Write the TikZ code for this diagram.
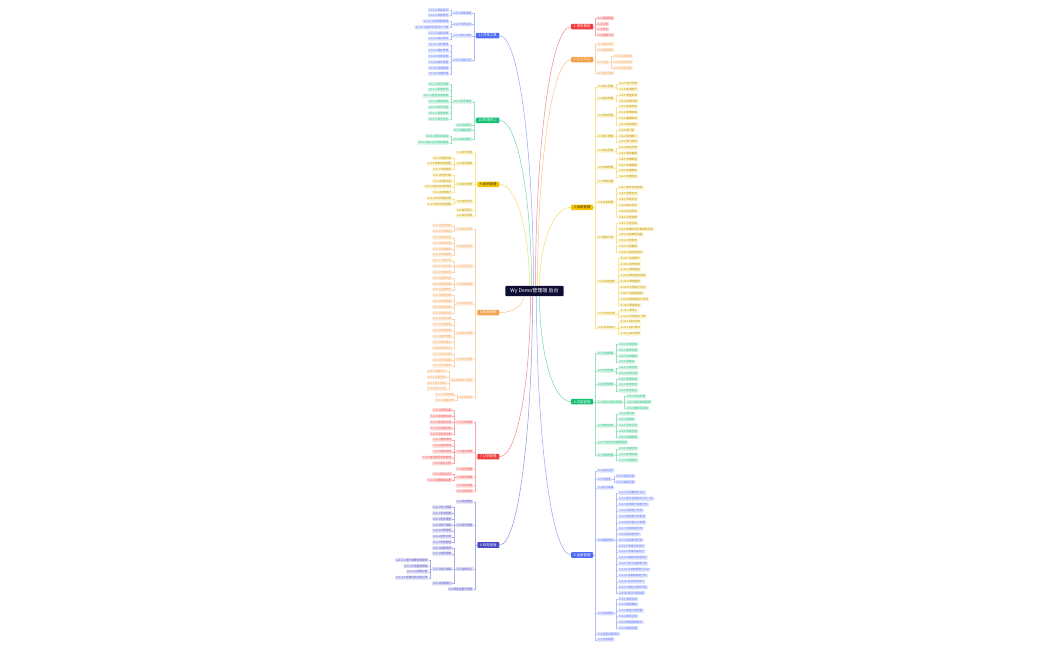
\documentclass[tikz,border=0pt]{standalone}
\usepackage{fontspec}
\setmainfont{Noto Sans CJK SC}
\usetikzlibrary{calc}

\definecolor{cblue}{HTML}{4F6BF5}
\definecolor{cgreen}{HTML}{14BF73}
\definecolor{cyellow}{HTML}{F5C400}
\definecolor{corange}{HTML}{F5A04B}
\definecolor{cred}{HTML}{F23B3B}
\definecolor{cindigo}{HTML}{4747C4}
\definecolor{cnavy}{HTML}{0E0E35}

\def\bc{cblue}
\def\bt{white}
\def\tx{\bc!85}

\tikzset{root/.style={fill=cnavy,text=white,rounded corners=0.8pt,inner xsep=5pt,inner ysep=2.5pt,font=\fontsize{5}{5.5}\selectfont},
branch/.style={fill=\bc,text=\bt,rounded corners=0.8pt,inner xsep=2.5pt,inner ysep=1.2pt,minimum width=22pt,font=\fontsize{3.4}{4}\selectfont},
leaf/.style={fill=\bc!20,text=\tx,rounded corners=0.5pt,inner xsep=1pt,inner ysep=0.7pt,font=\fontsize{2.7}{3.1}\selectfont},
link/.style={draw=\bc!45,line width=0.35pt},
trunk/.style={draw=\bc!60,line width=0.5pt}}

% sub node on the left / right of its parent, with its own leaves
\newcommand{\lsub}[5]{%
\node[leaf,anchor=east,xshift=-3.5pt] (#2) at (#1.west |- 0,#3) {#4};
\draw[link] (#1.west) -- ++(-1.75,0) |- (#2.east);
\if\relax\detokenize{#5}\relax\else
\foreach \yy/\lbl [count=\ix] in {#5} {\lsub{#2}{#2-\ix}{\yy}{\lbl}{}}%
\fi}
\newcommand{\rsub}[5]{%
\node[leaf,anchor=west,xshift=3.5pt] (#2) at (#1.east |- 0,#3) {#4};
\draw[link] (#1.east) -- ++(1.75,0) |- (#2.west);
\if\relax\detokenize{#5}\relax\else
\foreach \yy/\lbl [count=\ix] in {#5} {\rsub{#2}{#2-\ix}{\yy}{\lbl}{}}%
\fi}
\newcommand{\bcurve}[2]{%
\draw[trunk] (#1) .. controls ($(#1)!0.6!(#1 -| #2)$) and ($(#2)!0.5!(#2 |- #1)$) .. (#2);}

\begin{document}
\begin{tikzpicture}[x=1pt,y=-1pt]
\path[use as bounding box,fill=white] (0,0) rectangle (1050,650);

\node[root] (root) at (534.5,291) {Wy Demo管理端 后台};
\foreach \nm/\dx in {L3/-5,L2/-3,L1/-1,R1/1,R2/3,R3/5} \coordinate (t\nm) at ($(root.north)+(\dx,0)$);
\foreach \nm/\dx in {L4/-11,L5/-4,L6/-2,R5/2,R4/5} \coordinate (b\nm) at ($(root.south)+(\dx,0)$);

% right side
\def\bc{cred}
\node[branch,anchor=west] (R1) at (571,26.7) {1.首页看板};
\bcurve{R1.west}{tR1}
\rsub{R1}{R1a}{18.3}{1-1 数据看板}{}
\rsub{R1}{R1b}{24}{1-2 公告}{}
\rsub{R1}{R1c}{29.3}{1-3 待办}{}
\rsub{R1}{R1d}{35}{1-4 快捷入口}{}

\def\bc{corange}
\node[branch,anchor=west] (R2) at (571,59.7) {2.个人中心};
\bcurve{R2.west}{tR2}
\rsub{R2}{R2a}{44.3}{2-1 基本资料}{}
\rsub{R2}{R2b}{50}{2-2 修改密码}{}
\rsub{R2}{R2c}{62.3}{2-3 消息}{56/2-3-1 系统通知,62/2-3-2 站内消息,68/2-3-3 消息设置}
\rsub{R2}{R2d}{73.3}{2-4 退出登录}{}

\def\bc{cyellow}\def\bt{black!85}\def\tx{cyellow!75!black}
\node[branch,anchor=west] (R3) at (571,207.3) {3.系统管理};
\bcurve{R3.west}{tR3}
\rsub{R3}{R3a}{86.7}{3-1 用户管理}{83.7/3-1-1 用户列表,89.3/3-1-2 新增用户}
\rsub{R3}{R3b}{98.7}{3-2 角色管理}{95.3/3-2-1 角色列表,101/3-2-2 权限分配}
\rsub{R3}{R3c}{115.7}{3-3 菜单管理}{106.7/3-3-1 菜单列表,112.3/3-3-2 新增菜单,118.3/3-3-3 编辑菜单,124.7/3-3-4 菜单排序}
\rsub{R3}{R3d}{136}{3-4 部门管理}{130/3-4-1 部门树,136/3-4-2 新增部门,141.7/3-4-3 部门成员}
\rsub{R3}{R3e}{150.7}{3-5 岗位管理}{147.7/3-5-1 岗位列表,153.3/3-5-2 岗位编辑}
\rsub{R3}{R3f}{167.7}{3-6 字典管理}{159/3-6-1 字典类型,165/3-6-2 字典数据,170.7/3-6-3 字典缓存,176.7/3-6-4 字典导出}
\rsub{R3}{R3g}{181.7}{3-7 参数设置}{}
\rsub{R3}{R3h}{202.3}{3-8 日志管理}{187.7/3-8-1 操作日志查询,193.7/3-8-2 登录日志,199.3/3-8-3 异常日志,205.3/3-8-4 接口日志,211.3/3-8-5 日志导出,217/3-8-6 日志清理}
\rsub{R3}{R3i}{237.3}{3-9 通知公告}{223.3/3-9-1 公告列表,229/3-9-2 新增公告并推送至全员,234.7/3-9-3 公告审核流程,240.7/3-9-4 公告发布,246.3/3-9-5 公告撤回,252.3/3-9-6 公告阅读统计}
\rsub{R3}{R3j}{281.7}{3-10 系统监控}{258/3-10-1 在线用户,264/3-10-2 定时任务,269.7/3-10-3 服务监控,275.7/3-10-4 缓存监控信息,281.3/3-10-5 数据监控,287.3/3-10-6 任务执行日志,293/3-10-7 连接池监控,299/3-10-8 服务器运行状态,305/3-10-9 磁盘信息}
\rsub{R3}{R3k}{313.7}{3-11 代码生成}{310.7/3-11-1 表导入,316.7/3-11-2 代码预览下载}
\rsub{R3}{R3l}{327.7}{3-12 系统接口}{321.7/3-12-1 接口文档,327.7/3-12-2 接口调试,333.7/3-12-3 接口权限}

\def\bc{cgreen}\def\bt{white}\def\tx{\bc!85}
\node[branch,anchor=west] (R4) at (571,401.7) {4.内容管理};
\bcurve{R4.west}{bR4}
\rsub{R4}{R4a}{353.3}{4-1 文章管理}{344.3/4-1-1 文章列表,350/4-1-2 发布文章,356/4-1-3 文章审核,361.7/4-1-4 回收站}
\rsub{R4}{R4b}{370.7}{4-2 分类管理}{367.7/4-2-1 分类列表,373.3/4-2-2 新增分类}
\rsub{R4}{R4c}{384.3}{4-3 标签管理}{379/4-3-1 标签列表,384.7/4-3-2 新增标签,390.7/4-3-3 标签合并}
\rsub{R4}{R4d}{402}{4-4 评论与留言管理}{396.3/4-4-1 评论列表,402/4-4-2 留言审核管理,408/4-4-3 敏感词过滤}
\rsub{R4}{R4e}{425.7}{4-5 媒体资源}{413.7/4-5-1 图片库,419.3/4-5-2 视频库,425.3/4-5-3 文件上传,431.3/4-5-4 资源分组,437/4-5-5 存储配置}
\rsub{R4}{R4f}{442.7}{4-6 广告位与轮播图配置}{}
\rsub{R4}{R4g}{455}{4-7 专题管理}{448.7/4-7-1 专题列表,454.7/4-7-2 新增专题,460.3/4-7-3 专题排序}

\def\bc{cblue}
\node[branch,anchor=west] (R5) at (571,555) {5.运营管理};
\bcurve{R5.west}{bR5}
\rsub{R5}{R5a}{470.7}{5-1 活动日历}{}
\rsub{R5}{R5b}{479.3}{5-2 优惠券}{476/5-2-1 发放记录,482/5-2-2 核销记录}
\rsub{R5}{R5c}{487.7}{5-3 积分商城}{}
\rsub{R5}{R5d}{540}{5-4 数据统计}{492.7/5-4-1 访问量统计(PV),498.7/5-4-2 独立访客统计(UV、IP),504.7/5-4-3 新增用户趋势分析,510.7/5-4-4 活跃用户分布,516.7/5-4-5 留存率分析报表,522.7/5-4-6 转化漏斗分析图,528.7/5-4-7 页面停留时长,534.3/5-4-8 跳出率统计,540/5-4-9 渠道来源分析,546/5-4-10 地域分布统计,551.7/5-4-11 终端设备统计,557.7/5-4-12 搜索关键词排行,563.7/5-4-13 热门内容排行榜,569.7/5-4-14 订单数据统计汇总,575.7/5-4-15 销售额趋势分析,581.7/5-4-16 会员增长统计,587.3/5-4-17 自定义报表导出,593/5-4-18 统计口径说明}
\rsub{R5}{R5e}{613.3}{5-5 消息推送}{599/5-5-1 推送任务,604.3/5-5-2 推送模板,610.7/5-5-3 推送人群配置,616.3/5-5-4 推送记录,622/5-5-5 推送效果统计,628/5-5-6 推送设置}
\rsub{R5}{R5f}{634}{5-6 运营日报导出}{}
\rsub{R5}{R5g}{639.7}{5-7 运营配置}{}

% left side
\def\bc{cblue}
\node[branch,anchor=east] (L1) at (499.5,35.7) {11.开发工具};
\bcurve{L1.east}{tL1}
\lsub{L1}{L1a}{13}{11-1 表单构建}{10/11-1-1 表单设计,15.3/11-1-2 表单预览}
\lsub{L1}{L1b}{24.3}{11-2 代码生成}{21.3/11-2-1 生成配置管理,27.3/11-2-2 生成代码预览与下载}
\lsub{L1}{L1c}{35.7}{11-3 接口文档}{33/11-3-1 在线文档,38.7/11-3-2 接口测试}
\lsub{L1}{L1d}{60}{11-4 系统工具}{44.7/11-4-1 文件管理,50.7/11-4-2 缓存管理,56.3/11-4-3 任务调度,62.3/11-4-4 邮件配置,68/11-4-5 短信配置,73.7/11-4-6 存储配置}

\def\bc{cgreen}
\node[branch,anchor=east] (L2) at (499.5,120.3) {10.权限中心};
\bcurve{L2.east}{tL2}
\lsub{L2}{L2a}{101.7}{10-1 账号管理}{84/10-1-1 账号列表,89.7/10-1-2 新增账号,95.7/10-1-3 账号启用禁用,101.7/10-1-4 重置密码,107.3/10-1-5 账号分组,113.3/10-1-6 登录限制,119/10-1-7 账号日志}
\lsub{L2}{L2b}{125}{10-2 权限组}{}
\lsub{L2}{L2c}{130}{10-3 数据权限}{}
\lsub{L2}{L2d}{139.3}{10-4 接口授权}{136/10-4-1 接口白名单,142.7/10-4-2 接口访问密钥管理}

\def\bc{cyellow}\def\bt{black!85}\def\tx{cyellow!75!black}
\node[branch,anchor=east] (L3) at (499.5,184.3) {9.会员管理};
\bcurve{L3.east}{tL3}
\lsub{L3}{L3a}{152.7}{9-1 会员列表}{}
\lsub{L3}{L3b}{163.7}{9-2 会员等级}{158/9-2-1 等级列表,163.7/9-2-2 等级权益配置,169.3/9-2-3 升级规则}
\lsub{L3}{L3c}{184}{9-3 会员标签}{175.3/9-3-1 标签列表,181/9-3-2 标签分组,186.7/9-3-3 自动打标签规则,192.3/9-3-4 标签统计}
\lsub{L3}{L3d}{201.7}{9-4 会员积分}{198.7/9-4-1 积分明细记录,204.3/9-4-2 积分规则配置}
\lsub{L3}{L3e}{210}{9-5 会员导入}{}
\lsub{L3}{L3f}{215.7}{9-6 会员设置}{}

\def\bc{corange}\def\bt{white}\def\tx{\bc!85}
\node[branch,anchor=east] (L4) at (499.5,312.7) {8.商品管理};
\bcurve{L4.east}{bL4}
\lsub{L4}{L4a}{229}{8-1 商品列表}{225.7/8-1-1 在售商品,231.3/8-1-2 下架商品}
\lsub{L4}{L4b}{246.3}{8-2 商品发布}{237.7/8-2-1 基本信息,243.3/8-2-2 规格设置,249/8-2-3 价格库存,254.7/8-2-4 详情编辑}
\lsub{L4}{L4c}{266.3}{8-3 商品分类}{260.7/8-3-1 一级分类,266.3/8-3-2 二级分类,272.3/8-3-3 分类排序}
\lsub{L4}{L4d}{284}{8-4 品牌管理}{278/8-4-1 品牌列表,284/8-4-2 新增品牌,289.7/8-4-3 品牌审核}
\lsub{L4}{L4e}{303.7}{8-5 规格管理}{295.3/8-5-1 规格列表,301.3/8-5-2 规格模板,307/8-5-3 规格参数,313/8-5-4 规格分组}
\lsub{L4}{L4f}{333.3}{8-6 库存管理}{318.7/8-6-1 库存列表,324.7/8-6-2 入库管理,330.7/8-6-3 出库管理,336.7/8-6-4 库存预警,342.3/8-6-5 库存盘点,348/8-6-6 库存日志}
\lsub{L4}{L4g}{359.3}{8-7 评价管理}{354.3/8-7-1 评价列表,360/8-7-2 评价回复,365.7/8-7-3 评价审核}
\lsub{L4}{L4h}{380}{8-8 商品导入导出}{371.3/8-8-1 批量导入,377.3/8-8-2 批量导出,383.3/8-8-3 导入模板,389/8-8-4 导入记录}
\lsub{L4}{L4i}{397.3}{8-9 回收站}{394.7/8-9-1 已删商品,400.3/8-9-2 恢复记录}

\def\bc{cred}
\node[branch,anchor=east] (L5) at (499.5,456.7) {7.订单管理};
\bcurve{L5.east}{bL5}
\lsub{L5}{L5a}{422.3}{7-1 订单列表}{410/7-1-1 全部订单,416.3/7-1-2 待付款订单,422.3/7-1-3 待发货订单,428.3/7-1-4 已完成订单,434/7-1-5 已取消订单}
\lsub{L5}{L5b}{451.7}{7-2 售后管理}{439.7/7-2-1 退款申请,445.7/7-2-2 退货申请,451.7/7-2-3 换货申请,457.7/7-2-4 售后原因配置管理,463.3/7-2-5 售后记录}
\lsub{L5}{L5c}{469}{7-3 发货管理}{}
\lsub{L5}{L5d}{477.3}{7-4 物流管理}{474/7-4-1 物流公司,480/7-4-2 运费模板设置}
\lsub{L5}{L5e}{485.7}{7-5 订单设置}{}
\lsub{L5}{L5f}{491}{7-6 订单导出}{}

\def\bc{cindigo}
\node[branch,anchor=east] (L6) at (499.5,545) {6.财务管理};
\bcurve{L6.east}{bL6}
\lsub{L6}{L6a}{501.7}{6-1 财务概览}{}
\lsub{L6}{L6b}{525}{6-2 收支管理}{507.3/6-2-1 收入明细,513.3/6-2-2 支出明细,519/6-2-3 收支报表,525/6-2-4 账户余额,530.7/6-2-5 对账管理,536.7/6-2-6 退款记录,542.3/6-2-7 发票管理}
\lsub{L6}{L6c}{569}{6-3 结算中心}{548/6-3-1 结算规则,553.7/6-3-2 结算周期,583.3/6-3-4 结算统计}
\lsub{L6c}{L6cx}{569}{6-3-3 商户结算}{560/6-3-3-1 商户结算申请审核,566/6-3-3-2 结算单明细,571.7/6-3-3-3 结算打款,577.7/6-3-3-4 结算失败处理记录}
\lsub{L6}{L6d}{589}{6-4 财务设置与权限}{}
\end{tikzpicture}
\end{document}
